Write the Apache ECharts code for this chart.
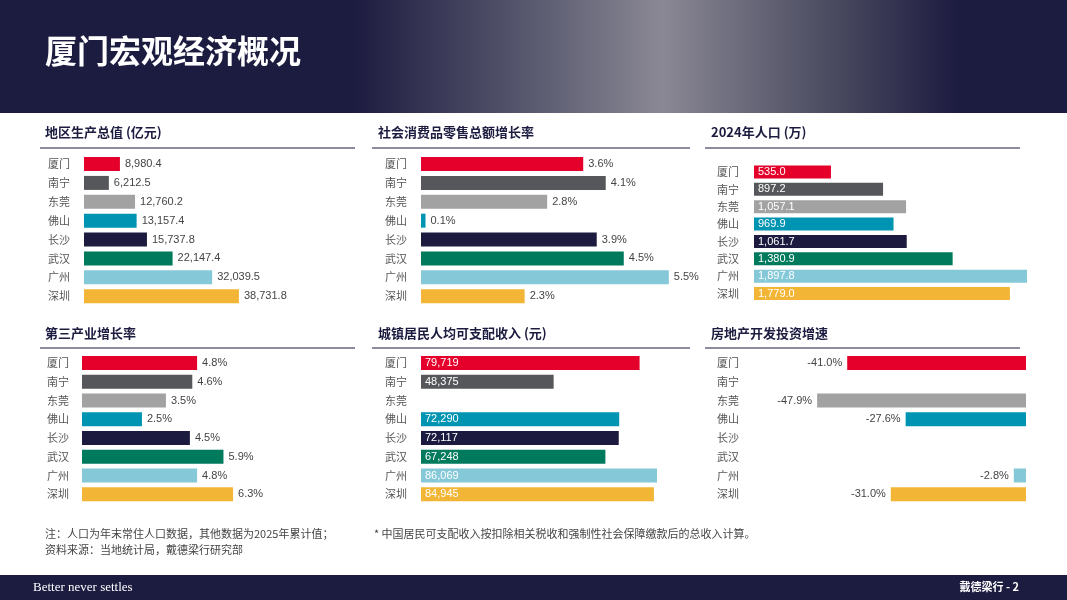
<!DOCTYPE html>
<html><head><meta charset="utf-8">
<script src="https://cdn.jsdelivr.net/npm/echarts@6/dist/echarts.min.js"></script>
<style>html,body{margin:0;padding:0;background:#fff}#c{width:1067px;height:600px}</style>
</head><body><div id="c"></div>
<script>
const cities = ['厦门','南宁','东莞','佛山','长沙','武汉','广州','深圳'];
const colors = ['#e4002b','#55575a','#a2a2a2','#0094b3','#1c1a3f','#007a5c','#85c9d9','#f2b535'];
const gdp = [8980.4, 6212.5, 12760.2, 13157.4, 15737.8, 22147.4, 32039.5, 38731.8];
const retail = [3.6, 4.1, 2.8, 0.1, 3.9, 4.5, 5.5, 2.3];
const population = [535.0, 897.2, 1057.1, 969.9, 1061.7, 1380.9, 1897.8, 1779.0];
const tertiary = [4.8, 4.6, 3.5, 2.5, 4.5, 5.9, 4.8, 6.3];
const income = [79719, 48375, null, 72290, 72117, 67248, 86069, 84945];
const realEstate = [-41.0, null, -47.9, -27.6, null, null, -2.8, -31.0];
const titles = ['地区生产总值 (亿元)','社会消费品零售总额增长率','2024年人口 (万)','第三产业增长率','城镇居民人均可支配收入 (元)','房地产开发投资增速'];

const fmt1 = v => Number(v).toLocaleString('en-US',{minimumFractionDigits:1,maximumFractionDigits:1});
const fmt0 = v => Number(v).toLocaleString('en-US');

const panels = [
 {data:gdp, left:84, width:256, top:154.6, h:151, min:0, max:64000, label:'right', f:v=>fmt1(v), lx:48, bw:14},
 {data:retail, left:421, width:269, top:154.6, h:151, min:0, max:5.97, label:'right', f:v=>v.toFixed(1)+'%', lx:385, bw:14},
 {data:population, left:754, width:273, top:163.3, h:139, min:0, max:1897.8, label:'insideLeft', f:v=>fmt1(v), lx:717, bw:13},
 {data:tertiary, left:82, width:258, top:353.6, h:150, min:0, max:10.76, label:'right', f:v=>v.toFixed(1)+'%', lx:47, bw:14},
 {data:income, left:421, width:269, top:353.6, h:150, min:0, max:98104, label:'insideLeft', f:v=>fmt0(v), lx:385, bw:14},
 {data:realEstate, left:760, width:266, top:353.6, h:150, min:-61, max:0, label:'left', f:v=>v.toFixed(1)+'%', lx:717, bw:14}
];

const grid=[],xAxis=[],yAxis=[],series=[];
panels.forEach((p,i)=>{
  grid.push({left:p.left,top:p.top,width:p.width,height:p.h,containLabel:false});
  xAxis.push({gridIndex:i,type:'value',min:p.min,max:p.max,show:false});
  yAxis.push({gridIndex:i,type:'category',data:cities,inverse:true,
    axisLine:{show:false},axisTick:{show:false},
    axisLabel:{align:'left',margin:p.left-p.lx,fontSize:11,color:'#555',fontFamily:'Noto Sans CJK SC'}});
  series.push({type:'bar',xAxisIndex:i,yAxisIndex:i,barWidth:p.bw,
    data:p.data.map((v,k)=>({value:v,itemStyle:{color:colors[k]}})),
    label:{show:true,position:p.label,fontSize:11,distance:p.label==='insideLeft'?4:5,
      color:p.label==='insideLeft'?'#fff':'#444',fontFamily:'Arial',
      formatter:o=>o.value==null?'':p.f(o.value)}});
});

const tpos=[[45,135],[378,135],[711,135],[45,336],[378,336],[711,336]];
const lines=[[40,355,148],[372,690,148],[705,1020,148],[40,355,348],[372,690,348],[705,1020,348]];
const graphic=[
  {type:'rect',shape:{x:0,y:0,width:1067,height:113},style:{fill:new echarts.graphic.LinearGradient(0,0,1,0,[
    {offset:0,color:'#1c1b40'},{offset:0.33,color:'#1c1b40'},{offset:0.5,color:'#5a5a70'},{offset:0.62,color:'#8a8894'},{offset:0.78,color:'#4a4a60'},{offset:0.9,color:'#1c1b40'},{offset:1,color:'#1c1b40'}])}},
  {type:'text',left:45,top:35,style:{text:'厦门宏观经济概况',fill:'#fff',font:'bold 32px "Noto Sans CJK SC"'}},
  {type:'rect',shape:{x:0,y:575,width:1067,height:25},style:{fill:'#1c1b40'}},
  {type:'text',left:33,top:581,style:{text:'Better never settles',fill:'#fff',font:'13px "Liberation Serif"'}},
  {type:'text',right:48,top:581,style:{text:'戴德梁行 - 2',fill:'#fff',font:'bold 11px "Noto Sans CJK SC"'}},
  {type:'text',left:45,top:528,style:{text:'注：人口为年末常住人口数据，其他数据为2025年累计值；',fill:'#444',font:'11px "Noto Sans CJK SC"'}},
  {type:'text',left:45,top:544,style:{text:'资料来源：当地统计局，戴德梁行研究部',fill:'#444',font:'11px "Noto Sans CJK SC"'}},
  {type:'text',left:374,top:528,style:{text:'* 中国居民可支配收入按扣除相关税收和强制性社会保障缴款后的总收入计算。',fill:'#444',font:'11px "Noto Sans CJK SC"'}}
];
titles.forEach((t,i)=>graphic.push({type:'text',left:tpos[i][0],top:tpos[i][1]-9,style:{text:t,fill:'#1c1b40',font:'bold 13px "Noto Sans CJK SC"'}}));
lines.forEach(l=>graphic.push({type:'line',shape:{x1:l[0],y1:l[2],x2:l[1],y2:l[2]},style:{stroke:'#1c1b40',lineWidth:1}}));

const chart=echarts.init(document.getElementById('c'));
chart.setOption({animation:false,grid,xAxis,yAxis,series,graphic});
</script></body></html>
